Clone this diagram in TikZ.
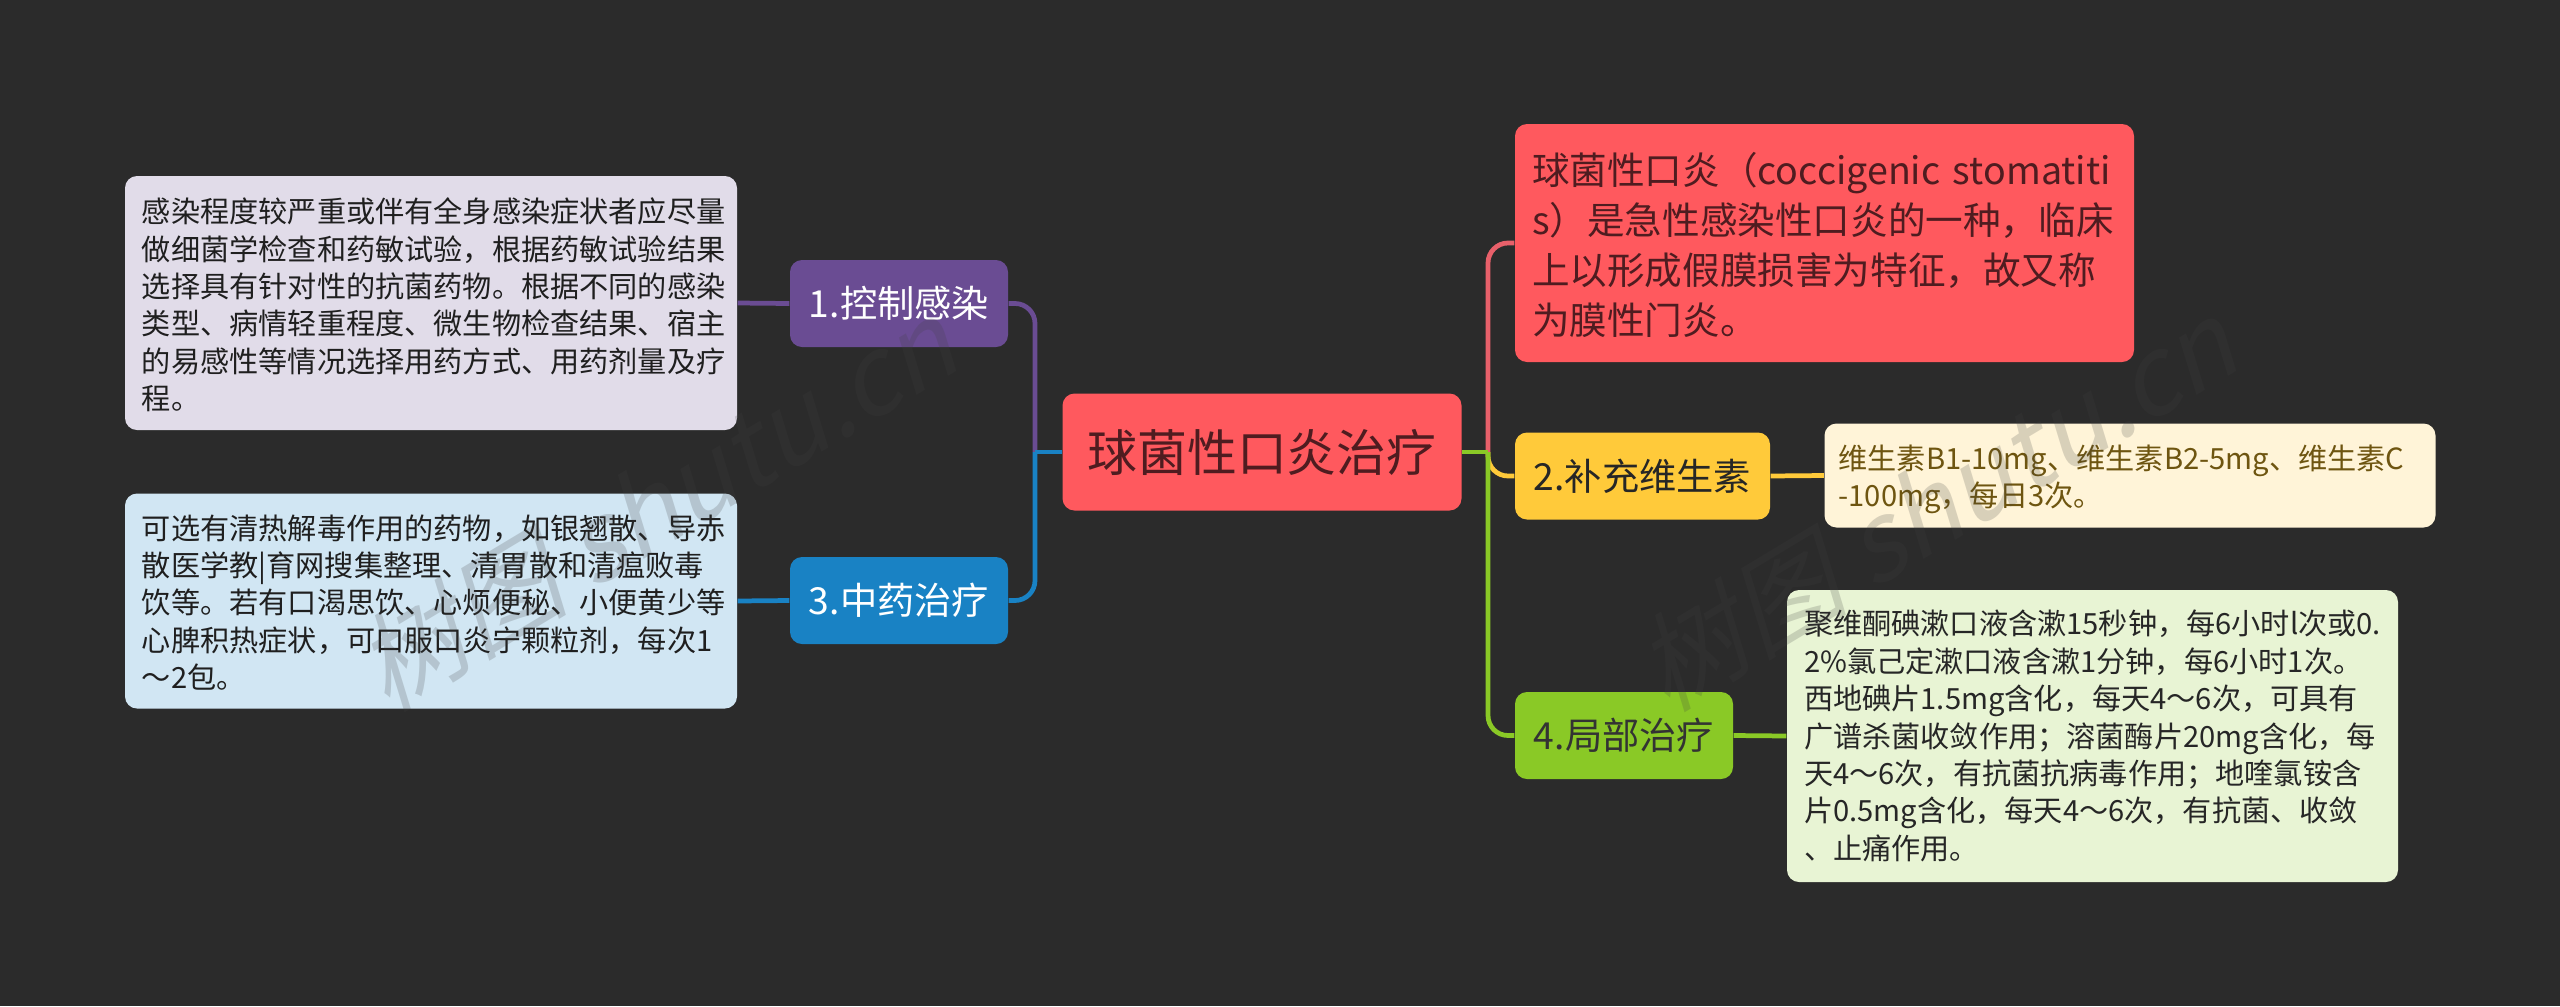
\documentclass[tikz,border=0pt]{standalone}
\usepackage{fontspec}
\setmainfont{Noto Sans CJK SC}
\newfontfamily\markfont[FakeSlant=0.25]{Noto Sans CJK SC}
\definecolor{bgdark}{HTML}{2B2B2B}
\definecolor{redfill}{HTML}{FF595E}
\definecolor{redtext}{HTML}{4F1C20}
\definecolor{redline}{HTML}{E8606A}
\definecolor{yellowfill}{HTML}{FFCA3A}
\definecolor{greenfill}{HTML}{8AC926}
\definecolor{bluefill}{HTML}{1982C4}
\definecolor{purplefill}{HTML}{6A4C93}
\definecolor{lilacnote}{HTML}{E1DCE9}
\definecolor{bluenote}{HTML}{D1E6F3}
\definecolor{creamnote}{HTML}{FFF4D8}
\definecolor{greennote}{HTML}{E8F4D4}
\definecolor{creamtext}{HTML}{6E5510}
\tikzset{
	mapbox/.style={rounded corners=0.12cm, inner xsep=0.17cm, inner ysep=0pt, align=left},
	topicbox/.style={mapbox, align=center, minimum height=0.87cm, font=\fontsize{10.6}{14}\selectfont},
	notebox/.style={mapbox, text=black!88, font=\fontsize{8.3}{10.64}\selectfont},
	textdown/.style={execute at begin node={\rule{0pt}{#1}}},
	branch/.style={line width=1.35pt, rounded corners=0.2cm},
	watermark/.style={rotate=31, text=black!75, text opacity=0.2, font=\markfont\fontsize{30.5}{34}\selectfont}
}

\begin{document}
\begin{tikzpicture}
	
	\useasboundingbox (0,0) rectangle (25.6,10.06);
	\fill[bgdark] (0,0) rectangle (25.6,10.06);
	\coordinate (ltrunk) at (10.35,5.54);
	\coordinate (rtrunk) at (14.88,5.54);
	
	\node[mapbox, fill=redfill, text=redtext, align=center, minimum width=3.99cm, minimum height=1.17cm, font=\fontsize{14.2}{18}\selectfont] (root) at (12.62,5.54) {球菌性口炎治疗};
	
	\node[topicbox, fill=purplefill, text=white, minimum width=2.18cm] (ctrl) at (8.99,7.025) {1.控制感染};
	\node[topicbox, fill=bluefill, text=white, minimum width=2.18cm] (herb) at (8.99,4.055) {3.中药治疗};
	\node[topicbox, fill=yellowfill, text=black!85, minimum width=2.55cm] (vita) at (16.425,5.30) {2.补充维生素};
	\node[topicbox, fill=greenfill, text=black!80, minimum width=2.18cm] (local) at (16.24,2.705) {4.局部治疗};
	
	\node[notebox, textdown=8.2pt, fill=lilacnote, text width=5.78cm, minimum height=2.54cm] (ctrlnote) at (4.31,7.03) {感染程度较严重或伴有全身感染症状者应尽量\\做细菌学检查和药敏试验，根据药敏试验结果\\选择具有针对性的抗菌药物。根据不同的感染\\类型、病情轻重程度、微生物检查结果、宿主\\的易感性等情况选择用药方式、用药剂量及疗\\程。};
	\node[notebox, textdown=7.8pt, fill=bluenote, text width=5.78cm, minimum height=2.15cm] (herbnote) at (4.31,4.05) {可选有清热解毒作用的药物，如银翘散、导赤\\散医学教|育网搜集整理、清胃散和清瘟败毒\\饮等。若有口渴思饮、心烦便秘、小便黄少等\\心脾积热症状，可口服口炎宁颗粒剂，每次1\\～2包。};
	\node[mapbox, textdown=10.3pt, fill=redfill, text=redtext, text width=5.85cm, minimum height=2.38cm, font=\fontsize{10.7}{14.2}\selectfont] (rednote) at (18.245,7.63) {球菌性口炎（coccigenic stomatiti\\s）是急性感染性口炎的一种，临床\\上以形成假膜损害为特征，故又称\\为膜性门炎。};
	\node[notebox, textdown=9.1pt, inner xsep=0.14cm, fill=creamnote, text=creamtext, text width=5.83cm, minimum height=1.04cm] (vitanote) at (21.30,5.305) {维生素B1-10mg、维生素B2-5mg、维生素C\\-100mg，每日3次。};
	\node[notebox, fill=greennote, text=black!85, text width=5.77cm, minimum height=2.92cm] (localnote) at (20.925,2.70) {聚维酮碘漱口液含漱15秒钟，每6小时l次或0.\\2\%氯己定漱口液含漱1分钟，每6小时1次。\\西地碘片1.5mg含化，每天4～6次，可具有\\广谱杀菌收敛作用；溶菌酶片20mg含化，每\\天4～6次，有抗菌抗病毒作用；地喹氯铵含\\片0.5mg含化，每天4～6次，有抗菌、收敛\\、止痛作用。};
	
	\draw[branch, purplefill] (ltrunk) |- (ctrl.east);
	\draw[branch, bluefill] (ltrunk) |- (herb.east);
	\draw[line width=1.35pt, bluefill] (root.west) -- (ltrunk);
	\draw[branch, redline] (rtrunk) |- (rednote.west);
	\draw[branch, yellowfill] (rtrunk) |- (vita.west);
	\draw[branch, greenfill] (rtrunk) |- (local.west);
	\draw[line width=1.35pt, greenfill] (root.east) -- (rtrunk);
	
	\draw[line width=1.35pt, purplefill] (ctrlnote.east) -- (ctrl.west);
	\draw[line width=1.35pt, bluefill] (herbnote.east) -- (herb.west);
	\draw[line width=1.35pt, yellowfill] (vitanote.west) -- (vita.east);
	\draw[line width=1.35pt, greenfill] (localnote.west) -- (local.east);
	
	\node[watermark] (markleft) at (6.55,5.01) {树图 shutu.cn};
	\node[watermark] (markright) at (19.35,5.01) {树图 shutu.cn};
	
\end{tikzpicture}
\end{document}
